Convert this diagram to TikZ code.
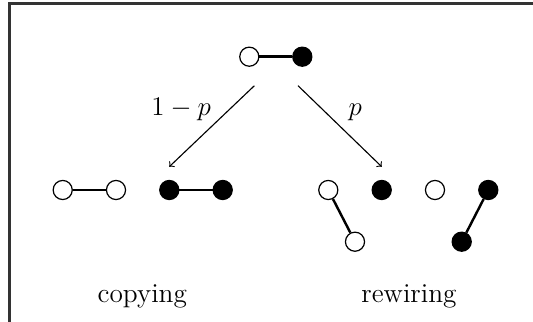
\documentclass[tikz,border=0pt]{standalone}
\begin{document}
\begin{tikzpicture}[x=0.018762cm,y=-0.018762cm,
  vtx/.style={circle,draw,line width=0.65pt,inner sep=0pt,minimum size=10.2pt},
  wv/.style={vtx,fill=white},
  bv/.style={vtx,fill=black},
  edge/.style={line width=1.3pt},
  arr/.style={->,line width=0.6pt},
  lbl/.style={anchor=base,inner sep=0pt,font=\fontsize{14.6}{17}\selectfont},
  frame/.style={line width=1.1pt,draw=black!80}]
\useasboundingbox (0,0) rectangle (533,322);
\draw[frame] (9.5,322) -- (9.5,3.5) -- (533,3.5);
% top
\node[wv] (t1) at (249.3,56.7) {};
\node[bv] (t2) at (302.3,56.7) {};
\draw[edge] (t1) -- (t2);
% copying
\node[wv] (c1) at (62.7,190) {};
\node[wv] (c2) at (116,190) {};
\node[bv] (c3) at (169.3,190) {};
\node[bv] (c4) at (222.7,190) {};
\draw[edge] (c1) -- (c2);
\draw[edge] (c3) -- (c4);
% rewiring
\node[wv] (r1) at (328.3,190) {};
\node[wv] (r2) at (355,241.7) {};
\node[bv] (r3) at (381.7,190) {};
\node[wv] (r4) at (435,190) {};
\node[bv] (r5) at (488.3,190) {};
\node[bv] (r6) at (461.7,241.7) {};
\draw[edge] (r1) -- (r2);
\draw[edge] (r5) -- (r6);
% arrows
\coordinate (a1s) at (254.4,85.7);
\coordinate (a1e) at (169.3,166.7);
\coordinate (a2s) at (298,85.7);
\coordinate (a2e) at (381.7,166.7);
\draw[arr] (a1s) -- (a1e);
\draw[arr] (a2s) -- (a2e);
% labels
\node[lbl] (l1) at (181.2,116) {$1-p$};
\node[lbl] (l2) at (355.3,116) {$p$};
\node[lbl] (l3) at (142.3,302.7) {copying};
\node[lbl] (l4) at (409,302.7) {rewiring};
\end{tikzpicture}
\end{document}
